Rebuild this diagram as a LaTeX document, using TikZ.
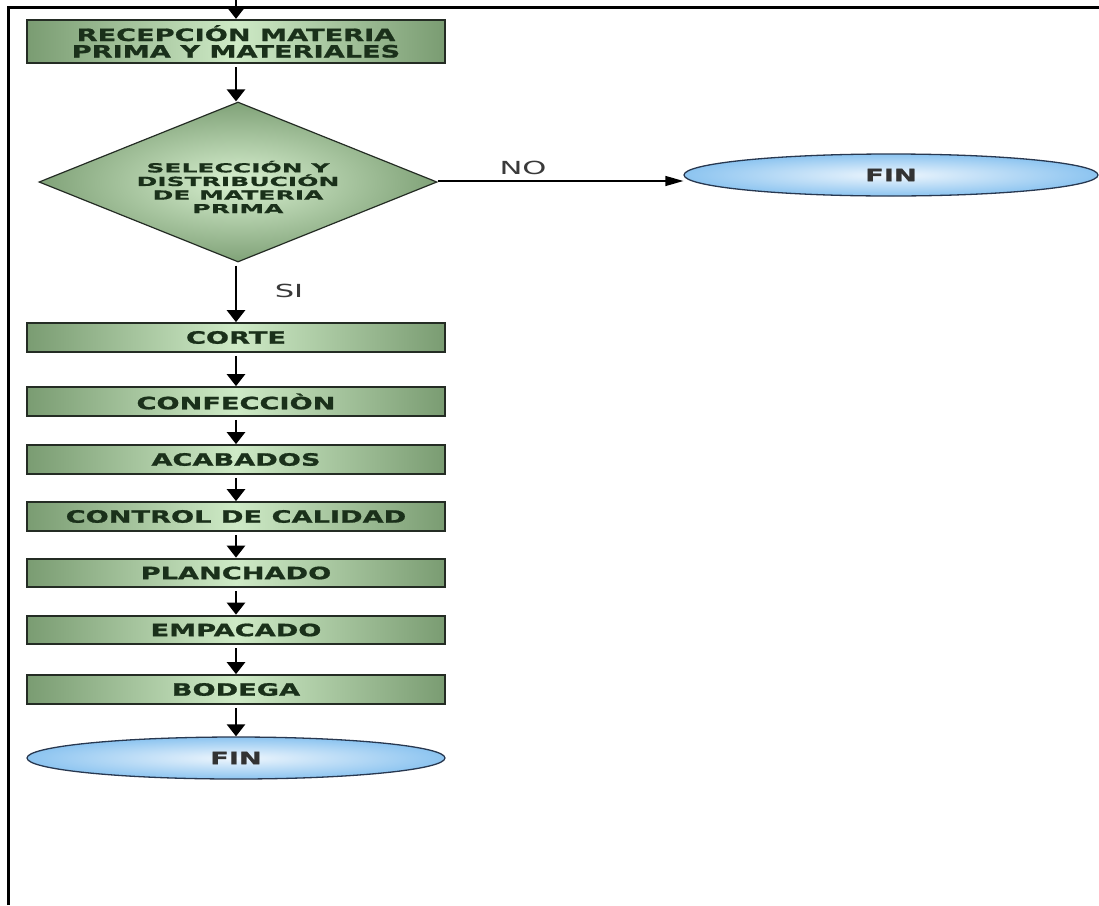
\documentclass[tikz,border=0pt]{standalone}
\usepackage{fontspec}
\usetikzlibrary{shapes.geometric,arrows.meta}
\newfontfamily\boxfont[FakeStretch=1.6,FakeBold=1.1]{DejaVu Sans Bold}
\newfontfamily\diafont[FakeStretch=2.0,FakeBold=0.6]{DejaVu Sans Bold}
\newfontfamily\lblfont[FakeStretch=1.7]{DejaVu Sans}
\definecolor{boxedge}{RGB}{122,156,114}
\definecolor{boxmid}{RGB}{206,234,198}
\definecolor{diaedge}{RGB}{128,162,120}
\definecolor{diamid}{RGB}{216,240,208}
\definecolor{elledge}{RGB}{140,196,240}
\definecolor{ellmid}{RGB}{238,246,253}
\definecolor{txtgreen}{RGB}{26,48,26}
\definecolor{bordercol}{RGB}{36,44,36}
\definecolor{ellborder}{RGB}{40,56,80}
\definecolor{lblgray}{RGB}{58,58,58}
\newcommand{\tightlines}{\lineskiplimit=-20pt\relax}
\begin{document}
\begin{tikzpicture}[x=1pt,y=-1pt,
  procbox/.style={rectangle,draw=bordercol,line width=2.2pt,inner sep=0pt,
    minimum width=418pt,minimum height=28.5pt,
    left color=boxedge,right color=boxedge,middle color=boxmid,
    text=txtgreen,font=\boxfont\fontsize{17}{16}\selectfont\tightlines,align=center},
  decbox/.style={diamond,draw=bordercol,line width=1.2pt,inner sep=0pt,
    aspect=2.475,minimum width=398pt,minimum height=160pt,
    inner color=diamid,outer color=diaedge},
  dectext/.style={inner sep=0pt,text=txtgreen,align=center,
    font=\diafont\fontsize{12.5}{13.6}\selectfont\tightlines},
  endbox/.style={ellipse,draw=ellborder,line width=1.3pt,inner sep=0pt,
    inner color=ellmid,outer color=elledge,
    text=black!80,font=\boxfont\fontsize{17}{16}\selectfont},
  flowarrow/.style={line width=2.6pt,-{Triangle[length=12pt,width=18pt]},shorten <=3pt},
  thinarrow/.style={line width=1.3pt,-{Triangle[length=18pt,width=10pt]}},
  lbl/.style={text=lblgray,font=\lblfont\fontsize{18}{18}\selectfont,inner sep=0pt}
]
\useasboundingbox[fill=white] (0,0) rectangle (1099,905);
% frame
\draw[line width=3pt,black] (8,905) -- (8,7) -- (1099,7);

\coordinate (topin) at (236,0);
\node[procbox,minimum height=43pt,font=\boxfont\fontsize{17}{16.5}\selectfont\tightlines] (rec) at (236,41.5) {RECEPCIÓN MATERIA\\PRIMA Y MATERIALES};
\node[decbox] (sel) at (238,182) {};
\node[dectext] (seltext) at (238,187) {SELECCIÓN Y\\DISTRIBUCIÓN\\DE MATERIA\\PRIMA};
\node[endbox,minimum width=414pt,minimum height=42pt] (fin1) at (891,175) {FIN};
\node[procbox] (corte) at (236,337.5) {CORTE};
\node[procbox] (conf) at (236,401.5) {CONFECCIÒN};
\node[procbox] (acab) at (236,459.5) {ACABADOS};
\node[procbox] (ctrl) at (236,516.5) {CONTROL DE CALIDAD};
\node[procbox] (plan) at (236,573) {PLANCHADO};
\node[procbox] (emp) at (236,630) {EMPACADO};
\node[procbox] (bod) at (236,689.5) {BODEGA};
\node[endbox,minimum width=418pt,minimum height=42pt] (fin2) at (236,758) {FIN};

\node[lbl] (no) at (523,168) {NO};
\node[lbl] (si) at (289,291) {SI};

\draw[flowarrow,shorten <=0pt] (topin) -- (rec.north);
\draw[flowarrow] (rec.south) -- (rec.south |- sel.north);
\draw[flowarrow] (sel.south -| rec.south) -- (corte.north);
\draw[thinarrow] (sel.east |- 0,181) -- (fin1.west |- 0,181);
\draw[flowarrow] (corte.south) -- (conf.north);
\draw[flowarrow] (conf.south) -- (acab.north);
\draw[flowarrow] (acab.south) -- (ctrl.north);
\draw[flowarrow] (ctrl.south) -- (plan.north);
\draw[flowarrow] (plan.south) -- (emp.north);
\draw[flowarrow] (emp.south) -- (bod.north);
\draw[flowarrow] (bod.south) -- (fin2.north);
\end{tikzpicture}
\end{document}
